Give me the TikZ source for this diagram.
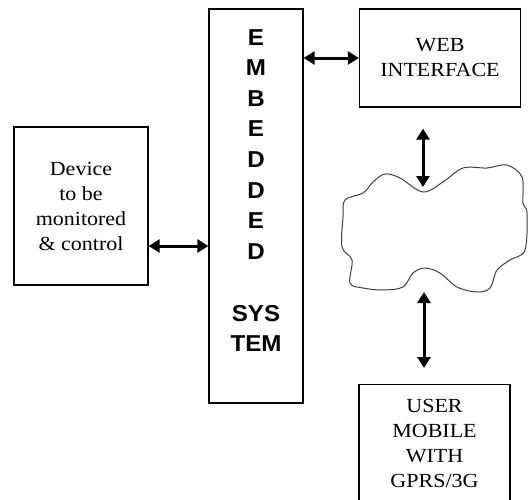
\documentclass[tikz,border=0pt]{standalone}
\usepackage{fontspec}
\setmainfont{Liberation Serif}[FakeStretch=1.1]
\newfontfamily\embfont{Liberation Sans}[FakeStretch=1.05]
\usetikzlibrary{arrows.meta}
\begin{document}
\begin{tikzpicture}[x=1pt,y=-1pt,
  box/.style={draw, line width=1.3pt, inner sep=0pt, align=center,
    font=\fontsize{20}{25}\selectfont},
  emb/.style={anchor=base, inner sep=0pt, font=\embfont\bfseries\fontsize{23}{23}\selectfont},
  link/.style={line width=3pt, {Triangle[length=11pt,width=13pt]}-{Triangle[length=11pt,width=13pt]}},
  cloudline/.style={draw, line width=1pt, black!75}]
\useasboundingbox (0,0) rectangle (528,499);
\clip (0,0) rectangle (528,499);
% boxes
\node[box, minimum width=94pt, minimum height=394pt] (embedded) at (256,206) {};
\node[box, minimum width=134pt, minimum height=158pt] (device) at (81,206) {Device\\to be\\monitored\\\& control};
\node[box, minimum width=161pt, minimum height=98pt] (web) at (440,58) {WEB\\INTERFACE};
\node[box, minimum width=151pt, minimum height=117pt] (user) at (434.5,443) {USER\\MOBILE\\WITH\\GPRS/3G};
% embedded system letters
\foreach \l/\y [count=\i] in {E/45,M/75.6,B/106.2,E/136.8,D/167.4,D/198,E/228.6,D/259.2,SYS/321.5,TEM/351.5}
  \node[emb] (letter\i) at (256,\y) {\l};
% cloud
\draw[cloudline] plot[smooth cycle, tension=0.55] coordinates {
  (345,200) (363,193) (373,182) (385,174) (400,178) (423,192)
  (443,182) (463,168) (487,168) (507,165) (522,177) (523,203)
  (527,213) (525,250) (510,260) (497,270) (490,288) (477,292)
  (457,287) (440,273) (425,268) (413,273) (403,287) (383,290)
  (363,288) (350,283) (352,260) (342,247) (343,217)};
\coordinate (cloudtop) at (423,187);
\coordinate (cloudbottom) at (424,292);
% connectors
\draw[link] (device.east |- 0,246) -- (embedded.west |- 0,246);
\draw[link] (embedded.east |- 0,58) -- (web.west |- 0,58);
\draw[link] (web.south -| cloudtop) ++(0,21) coordinate (webarrow) -- (cloudtop);
\draw[link] (cloudbottom) -- (cloudbottom |- 0,368) coordinate (userarrow);
\end{tikzpicture}
\end{document}
